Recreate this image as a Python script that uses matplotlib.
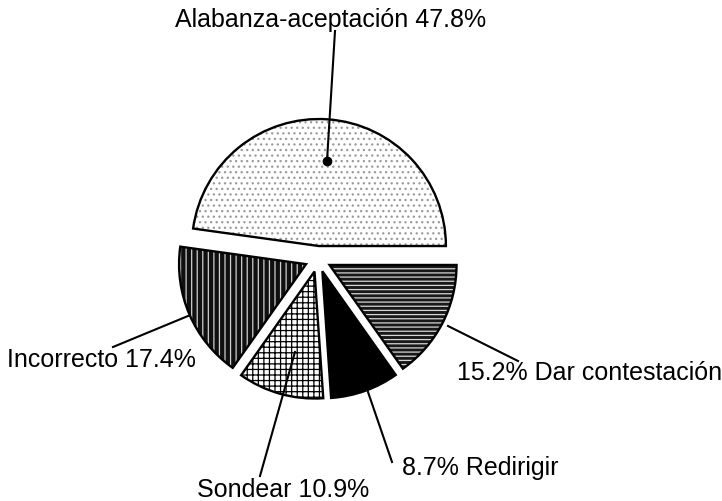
import numpy as np
import matplotlib.pyplot as plt
from matplotlib.patches import Wedge

plt.rcParams['font.family'] = ['Liberation Sans', 'DejaVu Sans']
plt.rcParams['hatch.linewidth'] = 0.9

# data (counter-clockwise from 3 o'clock)
categories = ["Alabanza-aceptación", "Incorrecto", "Sondear", "Redirigir", "Dar contestación"]
percentages = [47.8, 17.4, 10.9, 8.7, 15.2]
label_texts = ["Alabanza-aceptación 47.8%", "Incorrecto 17.4%", "Sondear 10.9%",
               "8.7% Redirigir", "15.2% Dar contestación"]

# styles
face_colors = ['white', '#101010', 'white', 'black', '#181818']
hatches = ['...', '|||', '+++', None, '----']
hatch_colors = ['#9a9a9a', '#cfcfcf', 'black', 'black', '#d6d6d6']

# layout in pixels (y measured from the top)
W, H = 722, 502
label_pos = [(175, 27), (7, 367), (197, 497), (402, 475), (457, 380)]
leaders = [((335, 32), (327, 162)),
           ((113, 348), (188, 317)),
           ((260, 477), (295, 353)),
           ((392, 463), (368, 393)),
           ((518, 362), (448, 327))]


def Y(y):
    return H - y


fig = plt.figure(figsize=(W / 100, H / 100), dpi=100)
ax = fig.add_axes([0, 0, 1, 1])

wedges, _ = ax.pie(percentages, startangle=0, counterclock=True,
                   center=(318, Y(260)), radius=127, explode=[13] * len(percentages))

for w, fc, h, hc in zip(wedges, face_colors, hatches, hatch_colors):
    w.set_facecolor(fc)
    w.set_edgecolor(hc)
    w.set_linewidth(0)
    if h:
        w.set_hatch(h)
    # black outline on top
    ax.add_patch(Wedge(w.center, w.r, w.theta1, w.theta2, fill=False,
                       edgecolor='black', lw=1.7, zorder=3))

for (p0, p1) in leaders:
    ax.plot([p0[0], p1[0]], [Y(p0[1]), Y(p1[1])], color='black', lw=1.5, zorder=4)
# dot at the end of the top leader
ax.plot(leaders[0][1][0], Y(leaders[0][1][1]), 'o', color='black', ms=6, zorder=5)

for txt, (x, y) in zip(label_texts, label_pos):
    ax.text(x, Y(y), txt, ha='left', va='baseline', fontsize=18, color='black')

ax.set_xlim(0, W)
ax.set_ylim(0, H)
ax.set_aspect('equal')
ax.axis('off')

fig.savefig('out.png', dpi=100, facecolor='white')
